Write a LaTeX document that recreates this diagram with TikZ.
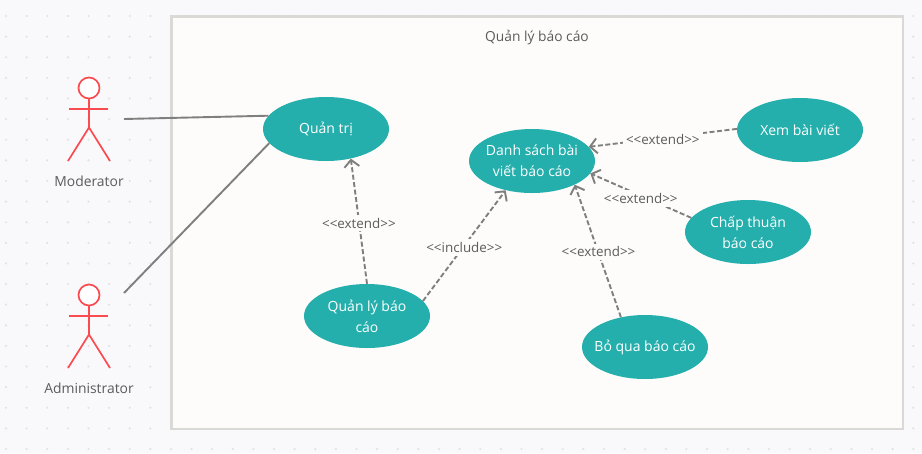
\documentclass[tikz,border=0pt]{standalone}
\usepackage{fontspec}
\setmainfont{Open Sans}
\usetikzlibrary{shapes.geometric,arrows.meta}
\definecolor{pagebg}{HTML}{F9F9FC}
\definecolor{boxbg}{HTML}{FDFCFB}
\definecolor{boxln}{HTML}{DAD9D5}
\definecolor{teal}{HTML}{24AFAD}
\definecolor{actorred}{HTML}{FA4B50}
\definecolor{ln}{HTML}{7F7F7F}
\definecolor{txt}{HTML}{5C5C5C}
\definecolor{dotc}{HTML}{E2E2E6}
\newcommand\ctline[2][-1pt]{\raisebox{#1}{\makebox[0pt][c]{#2}}}
\tikzset{
  usecase/.style={ellipse,fill=teal,text=white,minimum width=126pt,minimum height=64pt,inner sep=0pt,align=center,font=\fontsize{14}{21}\selectfont},
  assoc/.style={draw=ln,line width=1.9pt},
  dep/.style={draw=ln,line width=1.9pt,dash pattern=on 5pt off 2.5pt,-{Straight Barb[length=7pt,width=15pt,line width=1.9pt]}},
  deplabel/.style={fill=boxbg,text=txt,inner sep=3pt,font=\fontsize{13.4}{16}\selectfont},
  actorlabel/.style={text=txt,inner sep=0pt,font=\fontsize{13.9}{16}\selectfont},
  actorline/.style={draw=actorred,line width=1.7pt},
}
\begin{document}
\begin{tikzpicture}[x=1pt,y=-1pt]
\useasboundingbox (0,0) rectangle (922,453);
\fill[pagebg] (0,0) rectangle (922,453);
\foreach \i in {0,...,44}{\foreach \j in {0,...,21}{
  \fill[dotc] (6+20.62*\i,16+20.62*\j) circle (1.2pt);}}
\draw[fill=boxbg,draw=boxln,line width=2.2pt] (171.5,16.5) rectangle (902.7,429);
\node[text=txt,inner sep=0pt,font=\fontsize{13.8}{16}\selectfont] (title) at (537,37) {Quản lý báo cáo};

% actors
\foreach \n/\dy in {m/0,a/207}{
  \begin{scope}[yshift=-\dy pt]
    \draw[actorline,fill=white] (89,88) circle (10.5);
    \draw[actorline] (89,98.5) -- (89,127.5);
    \draw[actorline] (69,109) -- (108,109);
    \draw[actorline] (68,161) -- (89,127.5) -- (110,161);
  \end{scope}
}
\node[actorlabel] (moderator) at (89,181.5) {Moderator};
\node[actorlabel] (administrator) at (89,388) {Administrator};
\coordinate (mend) at (124,119);
\coordinate (aend) at (124,293);

% use cases
\node[usecase] (quantri) at (326,129) {\ctline[-3pt]{Quản trị}};
\node[usecase] (danhsach) at (532,161) {\ctline{Danh sách bài}\\\ctline{viết báo cáo}};
\node[usecase] (xem) at (800,130) {\ctline{Xem bài viết}};
\node[usecase] (chap) at (748,232) {\ctline{Chấp thuận}\\\ctline{báo cáo}};
\node[usecase] (quanly) at (367,316) {\ctline{Quản lý báo}\\\ctline{cáo}};
\node[usecase] (boqua) at (645,347) {\ctline{Bỏ qua báo cáo}};

% associations
\draw[assoc] (mend) -- (quantri.167);
\draw[assoc] (aend) -- (quantri.194);

% dependencies
\draw[dep] (xem.179) -- (danhsach.14) node[deplabel,pos=0.5,yshift=-1.5pt] (l1) {<{}<extend>{}>};
\draw[dep] (chap.166) -- (danhsach.-12) node[deplabel,pos=0.5,yshift=-3pt] (l2) {<{}<extend>{}>};
\draw[dep] (boqua.129) -- (danhsach.-29) node[deplabel,pos=0.485,yshift=1pt] (l3) {<{}<extend>{}>};
\draw[dep] (quanly.15) -- (danhsach.-132) node[deplabel,pos=0.5,yshift=-2pt] (l4) {<{}<include>{}>};
\draw[dep] (quanly.90) -- (quantri.-50) node[deplabel,pos=0.5,yshift=-2pt] (l5) {<{}<extend>{}>};
\end{tikzpicture}
\end{document}
